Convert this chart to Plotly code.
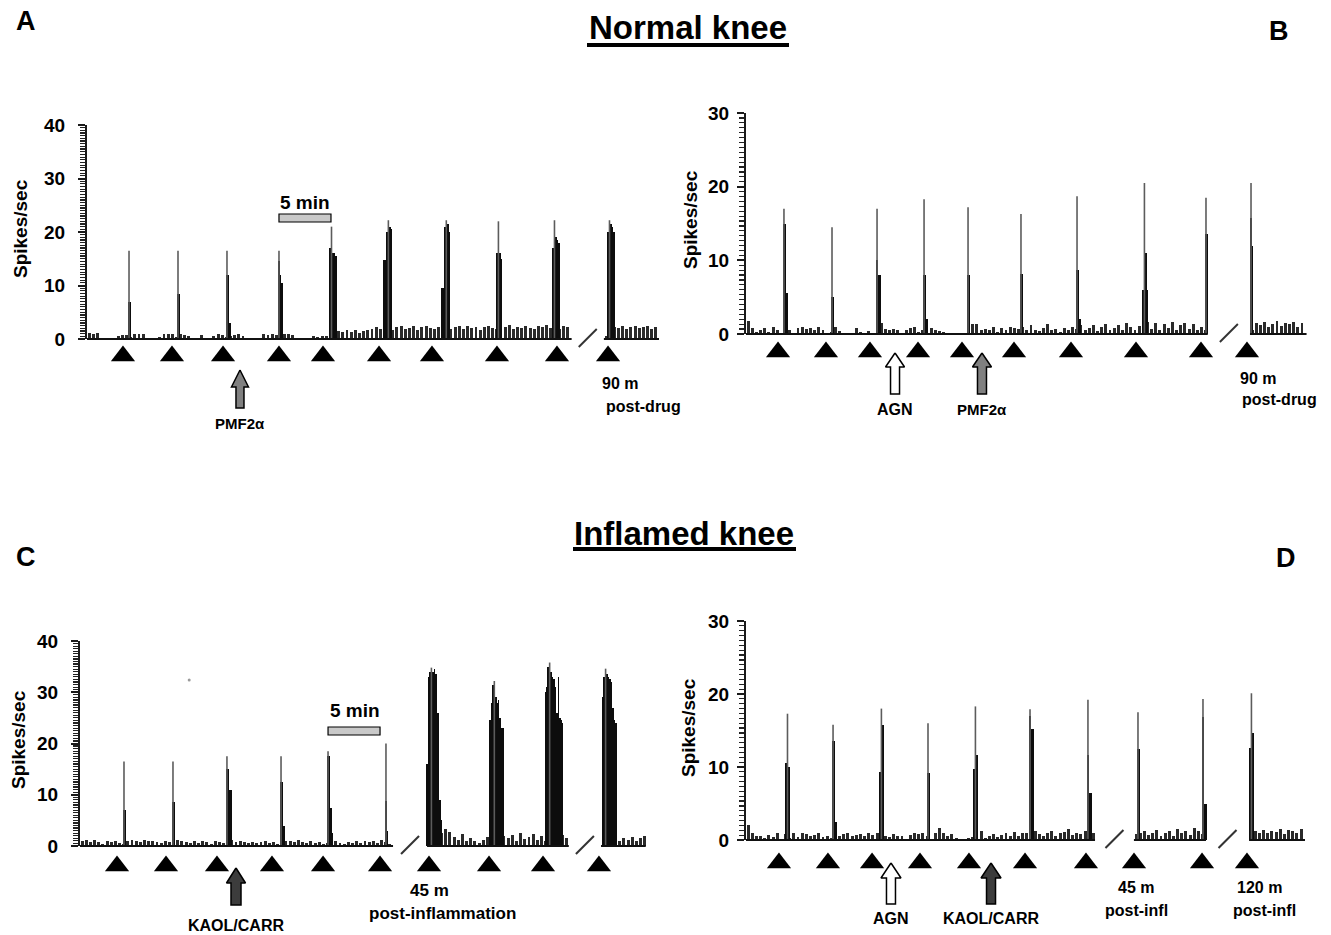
import plotly.graph_objects as go

W, H = 1331, 935
PX_PER_MIN = 10.4          # horizontal scale (5 min scale bar = 52 px)
NOISE_BIN = 0.4            # min, spacing of baseline-activity bins
NOISE_W = 0.28             # min, drawn width of a baseline bin
COL_W = 1.45 / PX_PER_MIN  # min, width of one response column
FONT = "Liberation Sans, Arial, Helvetica, sans-serif"

# ======================= DATA =======================
# ---------- Panel A (normal knee, PMF2alpha) ----------
A_SEGMENTS = [[0.0, 46.6], [49.7, 55.0]]
A_NOISE = [
    [1.2, 0.9, 1.2,
     0, 0, 0, 0, 0.6,
     0.8, 0.7, 0.3, 1.0, 0.9, 1.0,
     0, 0, 0, 0.4,
     1.0, 0.9, 1.0, 0.3, 1.0, 0.8, 0.5,
     0, 0, 0.8, 0, 0,
     0.6, 0.9, 0.7, 0.3, 0.5, 0.8, 0.9, 0.6,
     0, 0, 0, 0,
     0.9, 0.8, 1.0, 0.7, 0.3, 0.9, 1.0,
     0.8, 0, 0, 0, 0,
     0.5, 0.4, 0.6, 0.5,
     1.0, 1.2, 1.5, 1.3, 1.6, 1.4, 1.7, 1.2, 1.5, 1.6, 1.8,
     2.2, 1.8, 2.4, 2.0, 1.6, 2.3, 2.5, 1.9, 2.1, 2.4,
     1.7, 2.2, 2.5, 2.0, 1.8, 2.3, 2.1, 2.6, 1.9, 2.2,
     2.4, 1.8, 2.5, 2.0, 2.3, 1.7, 2.2, 2.5, 2.1, 1.9,
     2.4, 2.2, 2.6, 1.8, 2.3, 2.0, 2.5, 2.1, 1.9, 2.4,
     2.2, 2.6, 2.0, 2.3, 1.8, 2.5, 2.2, 2.0],
    [0.5, 1.0, 2.2, 2.0, 2.4, 1.8, 2.3, 2.5, 2.0, 2.2, 2.4, 1.9, 2.3],
]
A_PEAK_T = [4.04, 8.75, 13.46, 18.46, 23.37, 28.56, 34.13, 39.42, 44.81, 50.10]
A_PEAK_MAX = [16.5, 16.5, 16.5, 16.5, 21.0, 22.2, 22.2, 22.0, 22.2, 22.2]
A_PEAK_COLS = [[7, 7], [8.5, 8.5], [12, 12, 3], [14.5, 12, 10.5],
               [17, 18, 16, 16, 15.5], [14.8, 14.8, 20, 21, 21, 20.5],
               [9.5, 9.5, 21, 22, 21.5, 20], [16, 17, 16, 15],
               [17, 19, 19, 18.5, 18], [20, 21.5, 21.5, 21, 20]]
A_STIM_T = [3.46, 8.17, 13.08, 18.46, 22.69, 28.08, 33.17, 39.42, 45.19, 50.10]
A_DRUG_NAMES = ["PMF2α"]
A_DRUG_T = [14.71]
A_SCALE = [18.46, 5.0]

# ---------- Panel B (normal knee, AGN + PMF2alpha) ----------
B_SEGMENTS = [[0.0, 44.4], [48.46, 53.9]]
B_NOISE = [
    [1.8, 0.8, 0.3, 0.5, 0.8, 0.3, 0.9, 0.6, 0, 0.2, 0.5,
     0, 0.8, 0.9, 0.7, 0.8, 0.6, 0.9, 0.5, 0, 0.3, 0.9,
     0.4, 0.2, 0.1, 0, 0.8, 0.3, 0.1, 0.4, 0.2, 0.2, 1.5,
     0.7, 0.6, 0.7, 0.5, 0.2, 0.6, 0.8, 1.0, 0.3, 0.5, 1.0,
     0.8, 0.6, 0.4, 0.3, 0.2, 0.1, 0.1, 0.2, 0.1, 0.2, 1.4,
     1.3, 0.5, 0.7, 0.5, 1.0, 0.3, 0.8, 0.5, 0.9, 0.8, 0.7,
     0.9, 0.5, 1.2, 0.6, 0.4, 0.8, 1.3, 0.5, 0.7, 0.3, 0.8,
     0.5, 1.0, 0.7, 1.2, 0.6, 0.8, 1.2, 0.4, 0.9, 1.4, 0.6,
     0.8, 1.2, 0.5, 1.5, 1.0, 0.6, 1.1, 0.6, 1.6, 0.7, 1.5,
     0.6, 1.4, 0.8, 1.6, 0.5, 1.2, 1.5, 0.7, 1.3, 0.6, 1.0, 0.5],
    [0.5, 1.5, 1.2, 1.6, 1.0, 1.4, 1.7, 1.1, 1.5, 1.3, 1.6, 1.0, 1.5],
]
B_PEAK_T = [3.65, 8.27, 12.60, 17.12, 21.35, 26.44, 31.83, 38.17, 44.23, 48.56]
B_PEAK_MAX = [17.0, 14.5, 17.0, 18.3, 17.2, 16.3, 18.7, 20.5, 18.5, 20.5]
B_PEAK_COLS = [[15, 15, 5.5], [5, 5], [10, 8, 8], [8, 8, 2], [8, 8],
               [8.1, 8.1], [8.7, 8.7, 2], [6, 11, 11, 6], [13.6, 13.6], [15.7, 12]]
B_STIM_T = [3.08, 7.69, 11.92, 16.54, 20.77, 25.77, 31.25, 37.50, 43.75, 48.17]
B_DRUG_NAMES = ["AGN", "PMF2α"]
B_DRUG_T = [14.33, 22.69]

# ---------- Panel C (inflamed knee, KAOL/CARR) ----------
C_SEGMENTS = [[0.0, 30.1], [33.37, 47.0], [50.1, 54.4]]
C_NOISE = [
    [0.9, 1.2, 0.8, 1.1, 0.7, 0.4, 0.9, 0.8, 1.0, 0.6,
     0.3, 0.9, 1.1, 1.0, 0.7, 1.2, 0.9, 1.0, 0.8, 0.5,
     1.0, 0.8, 0.2, 1.2, 0.9, 0.7, 0.5, 1.0, 0.6, 0.9,
     0.8, 0.4, 0.9, 0.7, 0.5, 0.3, 1.1, 0.8, 0.9, 0.7,
     0.6, 0.8, 0.5, 0.7, 0.9, 0.6, 0.8, 0.4, 0.3, 1.0,
     0.9, 0.7, 1.1, 0.8, 0.6, 0.9, 0.5, 0.7, 0.4, 0.6,
     1.8, 0.9, 0.6, 0.4, 0.8, 0.6, 1.0, 0.5, 0.9, 0.7,
     1.0, 0.6, 1.2, 0.8, 0.4],
    [0.5, 0.5, 0.6, 2.6, 3.4, 2.8, 1.8, 1.2, 2.4, 0.9,
     1.5, 1.0, 0.6, 1.2, 1.8, 0.8, 1.0, 1.2, 2.0, 1.5,
     2.2, 1.0, 2.6, 1.4, 1.8, 2.3, 1.2, 2.0, 1.0, 0.8,
     0.7, 2.5, 2.2, 1.5],
    [0.5, 0.6, 0.8, 1.4, 1.0, 1.6, 1.2, 1.8, 1.0, 1.5, 1.9],
]
C_PEAK_T = [4.23, 8.94, 14.13, 19.33, 23.85, 29.42, 33.37, 39.42, 44.74, 50.26]
C_PEAK_MAX = [16.5, 16.5, 17.5, 17.5, 18.5, 20.0, 34.8, 32.2, 35.8, 34.6]
C_PEAK_COLS = [[7, 7], [8.5, 8.5], [15, 15, 11, 11], [12.5, 12.5, 4],
               [17.5, 17.5, 7.5, 2.5], [8.8, 3],
               [16, 33, 34, 34.5, 34, 34.5, 33.5, 26, 26, 9, 5],
               [24.5, 28, 31.5, 32, 29, 28, 28.5, 25, 23, 23],
               [30, 31, 35, 35.5, 34, 33, 32.5, 31, 26, 33, 25, 24.5, 24],
               [29, 33, 34.5, 33.5, 33, 32.5, 32, 27, 24.5, 24]]
C_STIM_T = [3.56, 8.27, 13.17, 18.46, 23.37, 28.85, 33.56, 39.33, 44.52, 49.90]
C_DRUG_NAMES = ["KAOL/CARR"]
C_DRUG_T = [15.0]
C_SCALE = [23.85, 5.0]
C_SPECK = [10.5, 32.4]

# ---------- Panel D (inflamed knee, AGN + KAOL/CARR) ----------
D_SEGMENTS = [[0.0, 33.56], [37.3, 44.23], [48.37, 53.75]]
D_NOISE = [
    [2.0, 1.0, 0.5, 0.6, 0.3, 0.7, 0.4, 0.9, 0.2, 0.8,
     0.3, 1.0, 0.4, 0.9, 0.8, 0.5, 0.7, 0.9, 0.4, 0.6,
     0.3, 0.9, 0.6, 0.8, 0.9, 0.5, 0.7, 0.8, 0.6, 0.9,
     0.7, 1.0, 0.5, 0.6, 0.4, 0.8, 0.6, 0.5, 0.2, 0.7,
     0.9, 0.8, 1.0, 0.5, 0.2, 0.9, 1.6, 1.0, 0.6, 0.8,
     0.3, 0.2, 0.2, 0.3, 0.4, 1.3, 1.2, 0.3, 0.5, 0.8,
     0.4, 0.7, 1.0, 0.6, 1.1, 0.5, 0.9, 1.0, 0.7, 1.2,
     0.8, 0.5, 1.0, 1.3, 0.6, 0.9, 1.1, 1.5, 0.7, 1.0,
     0.8, 1.2, 0.6, 1.0],
    [0.8, 1.0, 1.2, 0.7, 1.0, 1.4, 0.6, 0.9, 1.2, 0.5, 1.5, 1.0, 1.3, 0.7, 1.6, 1.2, 0.8],
    [0.5, 1.2, 1.0, 1.4, 0.9, 1.3, 1.1, 1.5, 0.8, 1.4, 1.2, 1.0, 1.5],
]
D_PEAK_T = [3.85, 8.37, 12.88, 17.50, 21.92, 27.31, 32.88, 37.69, 43.94, 48.46]
D_PEAK_MAX = [17.3, 15.8, 18.0, 16.0, 18.3, 17.9, 19.2, 17.5, 19.3, 20.1]
D_PEAK_COLS = [[10.5, 12.7, 10], [13.5, 13.5, 2.5], [9.3, 15.7, 15.7], [9.2, 9.2],
               [9.7, 11.6, 11.6], [17, 15.2, 15.2], [11.6, 6.5, 6.5], [12.5, 12.5],
               [16.8, 5, 5], [12.6, 14.7, 14.7]]
D_STIM_T = [3.17, 7.88, 12.12, 16.73, 21.44, 26.83, 32.69, 37.31, 43.85, 48.17]
D_DRUG_NAMES = ["AGN", "KAOL/CARR"]
D_DRUG_T = [13.94, 23.56]

DRUG_FILL = {"PMF2α": "#808080", "AGN": "#ffffff", "KAOL/CARR": "#3c3c3c"}
DRUG_FONT = {"PMF2α": 15, "AGN": 16, "KAOL/CARR": 16}

# ======================= LAYOUT (pixel geometry of each panel) =======================
PANELS = [
    dict(ax=87, base=339, top=125, top_val=40, dom=(84, 668, 108, 442), minor=0.5, standoff=9,
         tri_off=17, tri_size=21, arrow=(31, 48, 69, 17, 8), label_off=84,
         segments=A_SEGMENTS, noise=A_NOISE, peak_t=A_PEAK_T, peak_max=A_PEAK_MAX,
         peak_cols=A_PEAK_COLS, stim=A_STIM_T, drug_names=A_DRUG_NAMES, drug_t=A_DRUG_T,
         scale=A_SCALE, scale_py=(214, 222)),
    dict(ax=746, base=334, top=113, top_val=30, dom=(744, 1328, 100, 432), minor=2 / 3, standoff=4,
         tri_off=18, tri_size=21, arrow=(19, 33, 60, 19, 9), label_off=75,
         segments=B_SEGMENTS, noise=B_NOISE, peak_t=B_PEAK_T, peak_max=B_PEAK_MAX,
         peak_cols=B_PEAK_COLS, stim=B_STIM_T, drug_names=B_DRUG_NAMES, drug_t=B_DRUG_T),
    dict(ax=80, base=846, top=641, top_val=40, dom=(78, 668, 625, 935), minor=0.5, standoff=9,
         tri_off=20, tri_size=21, arrow=(22, 37, 59, 19, 10), label_off=79,
         segments=C_SEGMENTS, noise=C_NOISE, peak_t=C_PEAK_T, peak_max=C_PEAK_MAX,
         peak_cols=C_PEAK_COLS, stim=C_STIM_T, drug_names=C_DRUG_NAMES, drug_t=C_DRUG_T,
         scale=C_SCALE, scale_py=(727, 735)),
    dict(ax=746, base=840, top=621, top_val=30, dom=(744, 1328, 605, 935), minor=2 / 3, standoff=4,
         tri_off=23, tri_size=21, arrow=(23, 38, 64, 20, 9), label_off=78,
         segments=D_SEGMENTS, noise=D_NOISE, peak_t=D_PEAK_T, peak_max=D_PEAK_MAX,
         peak_cols=D_PEAK_COLS, stim=D_STIM_T, drug_names=D_DRUG_NAMES, drug_t=D_DRUG_T),
]

fig = go.Figure()
layout = dict(template="none", width=W, height=H,
              margin=dict(l=0, r=0, t=0, b=0, pad=0, autoexpand=False),
              paper_bgcolor="white", plot_bgcolor="rgba(0,0,0,0)",
              showlegend=False, barmode="overlay", bargap=0,
              font=dict(family=FONT, color="black"))
annotations = []
shapes = []


def axname(kind, n):
    return f"{kind}axis" if n == 1 else f"{kind}axis{n}"


def aref(kind, n):
    return kind if n == 1 else f"{kind}{n}"


def px_ann(text, xpx, ypx, size, xanchor="center", bold=True, angle=0):
    annotations.append(dict(
        x=xpx / W, y=1 - ypx / H, xref="paper", yref="paper",
        text=f"<b>{text}</b>" if bold else text, showarrow=False,
        xanchor=xanchor, yanchor="middle", textangle=angle,
        font=dict(family=FONT, size=size, color="black")))


for i, P in enumerate(PANELS):
    dn, an = 2 * i + 1, 2 * i + 2
    xr, yr = aref("x", dn), aref("y", dn)
    ppu = (P["base"] - P["top"]) / P["top_val"]
    l, r, t, b = P["dom"]

    def tmin(px, P=P):
        return (px - P["ax"]) / PX_PER_MIN

    def below(px, ppu=ppu):
        return -px / ppu

    layout[axname("x", dn)] = dict(domain=[l / W, r / W], range=[tmin(l), tmin(r)],
                                   visible=False, anchor=yr, fixedrange=True, automargin=False)
    layout[axname("y", dn)] = dict(domain=[1 - b / H, 1 - t / H],
                                   range=[below(b - P["base"]), (P["base"] - t) / ppu],
                                   visible=False, anchor=xr, fixedrange=True, automargin=False)

    common = dict(xaxis=xr, yaxis=yr, hoverinfo="skip", showlegend=False)

    # baseline activity
    nx, ny = [], []
    for (s0, s1), vals in zip(P["segments"], P["noise"]):
        for k, v in enumerate(vals):
            xc = s0 + NOISE_BIN * (k + 0.5)
            if xc < s1:
                nx.append(xc)
                ny.append(v)
    fig.add_trace(go.Bar(x=nx, y=ny, width=NOISE_W,
                         marker=dict(color="#2a2a2a", line=dict(width=0)), **common))

    # responses: thin peak line + dark columns
    lx, ly, cx, cy = [], [], [], []
    for tp, mx, cols in zip(P["peak_t"], P["peak_max"], P["peak_cols"]):
        kmax = cols.index(max(cols))
        xl = tp + kmax * COL_W
        lx += [xl, xl, None]
        ly += [0, mx, None]
        for k, v in enumerate(cols):
            cx.append(tp + k * COL_W)
            cy.append(v)
    fig.add_trace(go.Scatter(x=lx, y=ly, mode="lines",
                             line=dict(color="#5c5c5c", width=1.6), **common))
    fig.add_trace(go.Bar(x=cx, y=cy, width=COL_W * 1.08,
                         marker=dict(color="#0d0d0d", line=dict(width=0)), **common))

    # baselines of each recording segment
    bx, by = [], []
    for s0, s1 in P["segments"]:
        bx += [s0, s1, None]
        by += [0, 0, None]
    fig.add_trace(go.Scatter(x=bx, y=by, mode="lines",
                             line=dict(color="#111111", width=2), **common))

    # break marks
    sx, sy = [], []
    segs = P["segments"]
    for (a0, a1), (b0, b1) in zip(segs[:-1], segs[1:]):
        mid = (a1 + b0) / 2
        sx += [mid - 9 / PX_PER_MIN, mid + 9 / PX_PER_MIN, None]
        sy += [below(8), 10 / ppu, None]
    fig.add_trace(go.Scatter(x=sx, y=sy, mode="lines", cliponaxis=False,
                             line=dict(color="#333333", width=2), **common))

    # stimulus triangles
    fig.add_trace(go.Scatter(x=P["stim"], y=[below(P["tri_off"])] * len(P["stim"]),
                             mode="markers", cliponaxis=False,
                             marker=dict(symbol="triangle-up", size=P["tri_size"],
                                         color="black", line=dict(width=0)), **common))

    # drug arrows
    tip, hb, bot, hw, sw = P["arrow"]
    pts = [(0, tip), (hw / 2, hb), (sw / 2, hb), (sw / 2, bot), (-sw / 2, bot),
           (-sw / 2, hb), (-hw / 2, hb), (0, tip)]
    for name, td in zip(P["drug_names"], P["drug_t"]):
        fig.add_trace(go.Scatter(x=[td + dx / PX_PER_MIN for dx, dy in pts],
                                 y=[below(dy) for dx, dy in pts],
                                 mode="lines", fill="toself", fillcolor=DRUG_FILL[name],
                                 line=dict(color="black", width=1.5), **common))
        annotations.append(dict(x=td, y=below(P["label_off"]), xref=xr, yref=yr,
                                text=f"<b>{name}</b>", showarrow=False,
                                xanchor="center", yanchor="middle",
                                font=dict(family=FONT, size=DRUG_FONT[name], color="black")))

    # 5-min scale bar
    if "scale" in P:
        s0, slen = P["scale"]
        py0, py1 = P["scale_py"]
        shapes.append(dict(type="rect", xref=xr, yref=yr, x0=s0, x1=s0 + slen,
                           y0=(P["base"] - py1) / ppu, y1=(P["base"] - py0) / ppu,
                           fillcolor="#c9c9c9", line=dict(color="black", width=1.2)))

    # axis-only subplot (spikes/sec axis)
    layout[axname("x", an)] = dict(domain=[P["ax"] / W, (P["ax"] + 6) / W], range=[0, 1],
                                   visible=False, anchor=aref("y", an), fixedrange=True,
                                   automargin=False)
    layout[axname("y", an)] = dict(
        domain=[1 - P["base"] / H, 1 - P["top"] / H], range=[0, P["top_val"]],
        anchor=aref("x", an), fixedrange=True, automargin=False,
        showline=True, linecolor="#1a1a1a", linewidth=2,
        ticks="outside", ticklen=7, tickwidth=2, tickcolor="#1a1a1a",
        tickmode="linear", tick0=0, dtick=10,
        tickfont=dict(family=FONT, size=19, color="black", weight="bold"),
        ticklabelstandoff=P["standoff"],
        showgrid=False, zeroline=False,
        minor=dict(tickmode="linear", tick0=0, dtick=P["minor"], ticks="outside",
                   ticklen=5, tickwidth=1.2, tickcolor="#222222", showgrid=False))
    fig.add_trace(go.Scatter(x=[0.5], y=[0], mode="markers", marker=dict(opacity=0),
                             xaxis=aref("x", an), yaxis=aref("y", an),
                             hoverinfo="skip", showlegend=False))

# stray speck in panel C
fig.add_trace(go.Scatter(x=[C_SPECK[0]], y=[C_SPECK[1]], mode="markers",
                         marker=dict(size=3, color="#9a9a9a"), xaxis="x5", yaxis="y5",
                         hoverinfo="skip", showlegend=False))

# ---- titles, panel letters, labels ----
px_ann("Normal knee", 688, 28, 33)
shapes.append(dict(type="line", xref="paper", yref="paper", x0=587 / W, x1=789 / W,
                   y0=1 - 45 / H, y1=1 - 45 / H, line=dict(color="black", width=4)))
px_ann("Inflamed knee", 684, 533, 33)
shapes.append(dict(type="line", xref="paper", yref="paper", x0=573 / W, x1=796 / W,
                   y0=1 - 549 / H, y1=1 - 549 / H, line=dict(color="black", width=4)))

px_ann("A", 26, 21, 27)
px_ann("B", 1279, 31, 27)
px_ann("C", 26, 557, 27)
px_ann("D", 1286, 558, 27)

px_ann("Spikes/sec", 21, 229, 19, angle=-90)
px_ann("Spikes/sec", 690, 220, 19, angle=-90)
px_ann("Spikes/sec", 18, 740, 19, angle=-90)
px_ann("Spikes/sec", 688, 728, 19, angle=-90)

px_ann("5 min", 305, 202, 19)
px_ann("5 min", 355, 710, 19)

px_ann("90 m", 600, 384, 16, xanchor="left")
px_ann("post-drug", 604, 406, 16, xanchor="left")
px_ann("90 m", 1238, 378, 16, xanchor="left")
px_ann("post-drug", 1240, 400, 16, xanchor="left")
px_ann("45 m", 429, 890, 17)
px_ann("post-inflammation", 442, 913, 17)
px_ann("45 m", 1136, 887, 16)
px_ann("post-infl", 1136, 910, 16)
px_ann("120 m", 1259, 887, 16)
px_ann("post-infl", 1264, 910, 16)

layout["annotations"] = annotations
layout["shapes"] = shapes
fig.update_layout(**layout)

fig.write_html("out.html", include_plotlyjs=True, full_html=True,
               config={"displayModeBar": False, "staticPlot": True},
               post_script="document.body.style.margin='0';document.body.style.overflow='hidden';")
